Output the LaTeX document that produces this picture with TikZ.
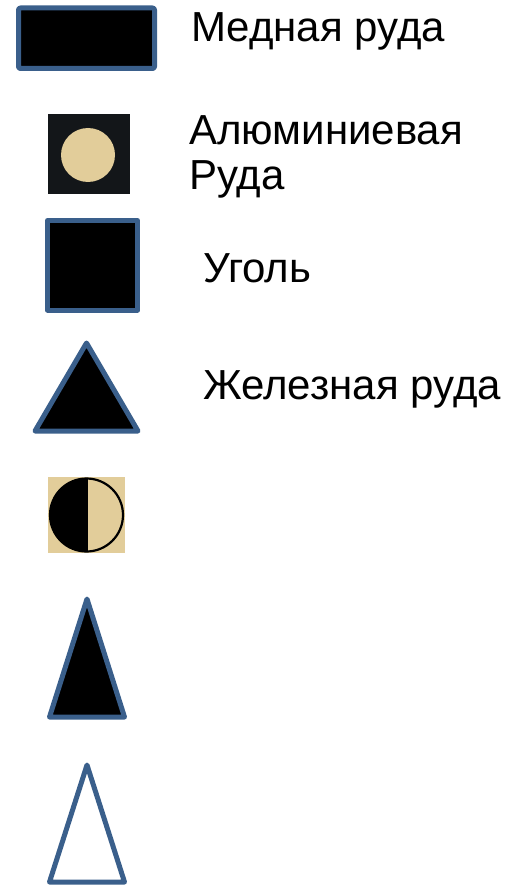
\documentclass[tikz,border=0pt]{standalone}
\usepackage{fontspec}
\setmainfont{Liberation Sans}
\definecolor{edge}{HTML}{3A5F8B}
\definecolor{tan}{HTML}{E2CD9A}
\definecolor{dark}{HTML}{131619}
\begin{document}
\begin{tikzpicture}[x=1pt,y=-1pt,
  sym/.style={draw=edge,line width=5pt,line join=round,fill=black},
  lbl/.style={anchor=base west,inner sep=0pt,font=\fontsize{42}{45}\selectfont}]
\useasboundingbox (0,0) rectangle (519,885);
% copper ore
\draw[sym,rounded corners=2pt] (18.5,8) rectangle (154.5,68.5);
\node[lbl] (t1) at (191,42) {Медная руда};
% aluminium ore
\fill[dark] (48,114) rectangle (130,194);
\fill[tan] (88,155) circle (27);
\node[lbl] (t2) at (189,145) {Алюминиевая};
\node[lbl] (t2b) at (189,190) {Руда};
% coal
\draw[sym] (47.5,220.5) rectangle (137.5,310);
\node[lbl] (t3) at (203,282) {Уголь};
% iron ore
\draw[sym] (35,431) -- (86.5,343) -- (138,431) -- cycle;
\node[lbl] (t4) at (203,399) {Железная руда};
% half circle
\fill[tan] (48,477) rectangle (125,553);
\fill[black] (86.5,478.5) arc (270:90:36.5) -- cycle;
\draw[black,line width=2.2pt] (86.5,515) circle (36.5);
\draw[black,line width=2pt] (86.5,478.5) -- (86.5,551.5);
% tall triangle
\draw[sym] (49.5,717) -- (87,599) -- (124.5,717) -- cycle;
% white triangle
\draw[sym,fill=white] (49.5,882) -- (87,765) -- (124.5,882) -- cycle;
\end{tikzpicture}
\end{document}
